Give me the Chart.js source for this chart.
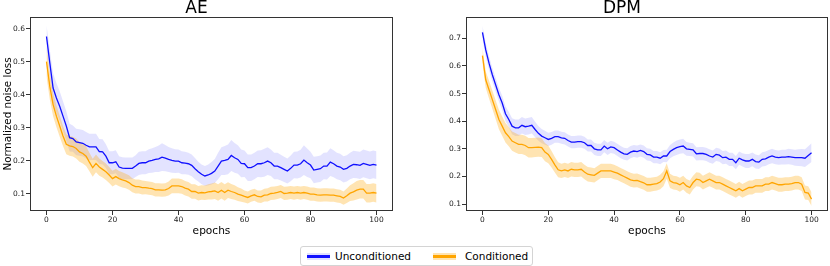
<!DOCTYPE html>
<html>
<head>
<meta charset="utf-8">
<script src="https://cdn.jsdelivr.net/npm/chart.js@4.4.1/dist/chart.umd.min.js"></script>
<style>
  body { margin: 0; background: #fff; width: 830px; height: 266px; position: relative; overflow: hidden; font-family: "DejaVu Sans", sans-serif; }
  canvas { position: absolute; top: 0; }
  #legend { position: absolute; left: 300px; top: 246px; width: 231px; height: 18px; border: 1px solid #d4d4d4; border-radius: 3px; background: #fff; }
  .item { position: absolute; top: 0; height: 18px; line-height: 18px; font-size: 10.5px; color: #000; white-space: nowrap; }
  .swatch { position: absolute; top: 6px; width: 23px; height: 7px; }
  .swatch span { position: absolute; left: 0; right: 0; top: 2px; height: 3px; }
</style>
</head>
<body>
<canvas id="ae_chart" width="410" height="240" style="left:0px"></canvas>
<canvas id="dpm_chart" width="414" height="240" style="left:416px"></canvas>
<div id="legend">
  <div class="swatch" style="left:6px;background:rgba(0,0,255,0.12)"><span style="background:#1010ff"></span></div>
  <div class="item" style="left:34px">Unconditioned</div>
  <div class="swatch" style="left:132px;background:rgba(255,165,0,0.3)"><span style="background:#ffa500"></span></div>
  <div class="item" style="left:164px">Conditioned</div>
</div>
<script>
// epochs on the x axis
var epochs = Array.from({ length: 101 }, function (_, i) { return i; });
var xTicks = [0, 20, 40, 60, 80, 100];
var aeTicks = [0.1, 0.2, 0.3, 0.4, 0.5, 0.6];
var dpmTicks = [0.1, 0.2, 0.3, 0.4, 0.5, 0.6, 0.7];

// AE - mean loss
var aeUncond = [0.576,0.496,0.42,0.39,0.365,0.335,0.305,0.27,0.267,0.257,
  0.255,0.253,0.247,0.242,0.242,0.242,0.228,0.227,0.214,0.194,
  0.194,0.197,0.181,0.178,0.177,0.177,0.177,0.184,0.192,0.194,
  0.194,0.199,0.201,0.204,0.206,0.211,0.208,0.204,0.201,0.199,
  0.199,0.194,0.193,0.191,0.186,0.176,0.167,0.159,0.154,0.157,
  0.162,0.169,0.184,0.199,0.201,0.204,0.216,0.209,0.204,0.192,
  0.191,0.179,0.179,0.184,0.191,0.191,0.194,0.199,0.194,0.184,
  0.184,0.179,0.174,0.169,0.177,0.187,0.187,0.191,0.202,0.194,
  0.187,0.172,0.174,0.176,0.184,0.184,0.196,0.191,0.184,0.181,
  0.174,0.177,0.184,0.189,0.188,0.186,0.192,0.189,0.186,0.189,0.187];
var aeCond = [0.5,0.425,0.37,0.335,0.305,0.275,0.25,0.245,0.243,0.237,
  0.227,0.222,0.214,0.196,0.179,0.192,0.181,0.174,0.167,0.157,
  0.146,0.152,0.146,0.142,0.139,0.134,0.126,0.122,0.122,0.119,
  0.119,0.117,0.116,0.112,0.112,0.111,0.112,0.116,0.124,0.124,
  0.124,0.122,0.117,0.114,0.107,0.107,0.102,0.104,0.103,0.106,
  0.107,0.109,0.104,0.111,0.104,0.111,0.107,0.104,0.099,0.096,
  0.092,0.089,0.094,0.097,0.092,0.091,0.096,0.097,0.101,0.102,
  0.104,0.107,0.101,0.102,0.104,0.102,0.104,0.102,0.104,0.102,
  0.099,0.099,0.097,0.096,0.097,0.097,0.096,0.096,0.094,0.092,
  0.087,0.094,0.102,0.106,0.111,0.114,0.114,0.102,0.102,0.104,0.102];
// AE - half width of the shaded band
var aeUncondSpread = [0.035,0.04,0.045,0.045,0.045,0.045,0.045,0.042,0.04,0.04,
  0.04,0.04,0.04,0.04,0.04,0.04,0.038,0.038,0.036,0.035,
  0.035,0.035,0.033,0.033,0.033,0.033,0.033,0.033,0.035,0.035,
  0.035,0.036,0.037,0.038,0.04,0.042,0.04,0.038,0.037,0.036,
  0.035,0.035,0.034,0.033,0.033,0.032,0.03,0.03,0.03,0.032,
  0.034,0.036,0.04,0.042,0.044,0.045,0.047,0.045,0.043,0.042,
  0.04,0.04,0.04,0.04,0.04,0.041,0.042,0.042,0.04,0.04,
  0.04,0.039,0.038,0.038,0.039,0.04,0.041,0.042,0.045,0.043,
  0.04,0.04,0.04,0.04,0.04,0.041,0.042,0.041,0.04,0.04,
  0.04,0.04,0.04,0.041,0.041,0.041,0.042,0.042,0.042,0.042,0.042];
var aeCondSpread = [0.045,0.04,0.035,0.033,0.032,0.03,0.03,0.03,0.03,0.03,
  0.03,0.03,0.03,0.028,0.027,0.027,0.026,0.025,0.025,0.024,
  0.024,0.024,0.023,0.023,0.022,0.022,0.021,0.021,0.021,0.021,
  0.02,0.02,0.02,0.02,0.02,0.02,0.02,0.021,0.022,0.022,
  0.022,0.022,0.022,0.022,0.022,0.022,0.022,0.022,0.022,0.023,
  0.024,0.025,0.025,0.025,0.025,0.024,0.023,0.022,0.021,0.02,
  0.018,0.018,0.018,0.018,0.018,0.019,0.019,0.02,0.02,0.02,
  0.02,0.02,0.02,0.02,0.02,0.02,0.02,0.02,0.02,0.02,
  0.02,0.02,0.02,0.02,0.02,0.02,0.02,0.02,0.02,0.02,
  0.02,0.022,0.024,0.026,0.028,0.028,0.028,0.028,0.028,0.028,0.028];

// DPM - mean loss
var dpmUncond = [0.721,0.658,0.61,0.568,0.532,0.496,0.466,0.427,0.406,0.382,
  0.376,0.376,0.385,0.38,0.382,0.385,0.37,0.356,0.346,0.34,
  0.334,0.338,0.344,0.344,0.34,0.338,0.33,0.324,0.324,0.326,
  0.326,0.322,0.312,0.312,0.3,0.296,0.296,0.31,0.3,0.307,
  0.304,0.296,0.288,0.282,0.28,0.288,0.292,0.29,0.294,0.29,
  0.28,0.278,0.27,0.27,0.266,0.274,0.274,0.29,0.298,0.304,
  0.308,0.31,0.3,0.298,0.296,0.282,0.283,0.283,0.28,0.274,
  0.27,0.28,0.277,0.268,0.27,0.262,0.262,0.25,0.266,0.26,
  0.256,0.256,0.262,0.254,0.252,0.262,0.264,0.27,0.274,0.27,
  0.268,0.27,0.27,0.272,0.27,0.268,0.268,0.268,0.266,0.276,0.286];
var dpmCond = [0.637,0.55,0.514,0.478,0.442,0.406,0.382,0.358,0.344,0.328,
  0.322,0.316,0.316,0.312,0.304,0.304,0.305,0.306,0.304,0.288,
  0.28,0.262,0.242,0.224,0.22,0.224,0.22,0.226,0.224,0.224,
  0.226,0.216,0.208,0.206,0.204,0.212,0.22,0.22,0.22,0.22,
  0.216,0.212,0.206,0.2,0.194,0.188,0.185,0.186,0.181,0.177,
  0.17,0.17,0.172,0.174,0.18,0.192,0.22,0.184,0.178,0.176,
  0.17,0.178,0.166,0.16,0.178,0.19,0.188,0.178,0.184,0.19,
  0.184,0.178,0.178,0.172,0.166,0.16,0.154,0.148,0.156,0.148,
  0.154,0.16,0.16,0.166,0.166,0.166,0.172,0.172,0.178,0.174,
  0.17,0.17,0.172,0.172,0.174,0.178,0.178,0.172,0.142,0.14,0.118];
// DPM - half width of the shaded band
var dpmUncondSpread = [0.025,0.025,0.025,0.025,0.025,0.025,0.026,0.027,0.028,0.029,
  0.03,0.03,0.03,0.03,0.03,0.03,0.028,0.027,0.026,0.025,
  0.024,0.023,0.022,0.022,0.022,0.022,0.022,0.022,0.022,0.022,
  0.022,0.022,0.022,0.022,0.022,0.022,0.022,0.022,0.022,0.022,
  0.022,0.022,0.022,0.022,0.022,0.022,0.022,0.022,0.022,0.022,
  0.022,0.022,0.022,0.022,0.022,0.022,0.023,0.024,0.025,0.026,
  0.026,0.026,0.025,0.024,0.024,0.024,0.024,0.024,0.024,0.024,
  0.024,0.024,0.024,0.024,0.024,0.024,0.024,0.024,0.024,0.024,
  0.025,0.025,0.025,0.025,0.025,0.026,0.026,0.026,0.026,0.026,
  0.026,0.027,0.027,0.028,0.028,0.029,0.03,0.031,0.032,0.033,0.034];
var dpmCondSpread = [0.028,0.03,0.032,0.033,0.034,0.035,0.035,0.035,0.035,0.035,
  0.035,0.035,0.035,0.035,0.035,0.035,0.035,0.035,0.034,0.033,
  0.032,0.03,0.028,0.027,0.026,0.026,0.026,0.026,0.026,0.026,
  0.026,0.026,0.026,0.026,0.026,0.026,0.026,0.026,0.026,0.026,
  0.026,0.025,0.025,0.025,0.025,0.025,0.025,0.025,0.025,0.025,
  0.025,0.025,0.025,0.025,0.026,0.027,0.028,0.026,0.025,0.025,
  0.025,0.025,0.025,0.025,0.025,0.025,0.025,0.025,0.025,0.025,
  0.025,0.025,0.025,0.025,0.025,0.025,0.025,0.025,0.025,0.025,
  0.025,0.025,0.025,0.025,0.025,0.025,0.025,0.025,0.025,0.025,
  0.025,0.025,0.025,0.025,0.025,0.025,0.025,0.025,0.025,0.025,0.025];

var FONT = '"DejaVu Sans", sans-serif';
var BLUE = '#1010ff', BLUE_BAND = 'rgba(0,0,255,0.11)';
var ORANGE = '#ffa500', ORANGE_BAND = 'rgba(255,165,0,0.3)';

// line + shaded band (upper fills down to lower)
function seriesDatasets(mean, spread, lineColor, bandColor, lineOrder, bandOrder) {
  return [
    { data: epochs.map(function (e, i) { return { x: e, y: mean[i] }; }),
      borderColor: lineColor, borderWidth: 1.3, pointRadius: 0, fill: false, tension: 0, order: lineOrder },
    { data: epochs.map(function (e, i) { return { x: e, y: mean[i] + spread[i] }; }),
      borderWidth: 0, pointRadius: 0, backgroundColor: bandColor, fill: '+1', tension: 0, order: bandOrder },
    { data: epochs.map(function (e, i) { return { x: e, y: mean[i] - spread[i] }; }),
      borderWidth: 0, pointRadius: 0, fill: false, tension: 0, order: bandOrder }
  ];
}

// draw the full axes box like matplotlib
var framePlugin = {
  id: 'frame',
  afterDraw: function (chart) {
    var a = chart.chartArea, c = chart.ctx;
    c.save();
    c.strokeStyle = '#333';
    c.lineWidth = 1;
    c.strokeRect(Math.round(a.left) + 0.5, Math.round(a.top) + 0.5, Math.round(a.right - a.left) - 1, Math.round(a.bottom - a.top) - 1);
    c.restore();
  }
};

function makeChart(canvasId, title, uncond, uncondSpread, cond, condSpread, yMin, yMax, yTicks, yWidth, padRight, yTitle) {
  var ctx = document.getElementById(canvasId).getContext('2d');
  var datasets = seriesDatasets(uncond, uncondSpread, BLUE, BLUE_BAND, 1, 3)
    .concat(seriesDatasets(cond, condSpread, ORANGE, ORANGE_BAND, 0, 2));
  return new Chart(ctx, {
    type: 'line',
    data: { datasets: datasets },
    options: {
      responsive: false,
      devicePixelRatio: 1,
      animation: false,
      events: [],
      layout: { padding: { left: 0, top: 0, right: padRight, bottom: 0 } },
      plugins: {
        legend: { display: false },
        tooltip: { enabled: false },
        title: { display: true, text: title, color: '#000', padding: 0,
          font: { family: FONT, size: 17, weight: 'normal', lineHeight: 1 } }
      },
      scales: {
        x: {
          type: 'linear', min: -5, max: 105,
          afterBuildTicks: function (s) { s.ticks = xTicks.map(function (v) { return { value: v }; }); },
          afterFit: function (s) { s.height = 29; },
          border: { display: false },
          grid: { drawOnChartArea: false, drawTicks: true, tickLength: 4, color: '#333' },
          ticks: { color: '#222', padding: 1, maxRotation: 0, autoSkip: false, font: { family: FONT, size: 7.5 } },
          title: { display: true, text: 'epochs', color: '#000', padding: { top: 0, bottom: 2 }, font: { family: FONT, size: 10.6 } }
        },
        y: {
          min: yMin, max: yMax,
          afterBuildTicks: function (s) { s.ticks = yTicks.map(function (v) { return { value: v }; }); },
          afterFit: function (s) { s.width = yWidth; },
          border: { display: false },
          grid: { drawOnChartArea: false, drawTicks: true, tickLength: 4, color: '#333' },
          ticks: { color: '#222', padding: 1, autoSkip: false, font: { family: FONT, size: 7.5 },
            callback: function (v) { return Number(v).toFixed(1); } },
          title: { display: !!yTitle, text: yTitle || '', color: '#000', padding: { top: 2, bottom: 0 }, font: { family: FONT, size: 10.4 } }
        }
      }
    },
    plugins: [framePlugin]
  });
}

makeChart('ae_chart', 'AE', aeUncond, aeUncondSpread, aeCond, aeCondSpread, 0.048, 0.635, aeTicks, 30, 17, 'Normalized noise loss');
makeChart('dpm_chart', 'DPM', dpmUncond, dpmUncondSpread, dpmCond, dpmCondSpread, 0.075, 0.777, dpmTicks, 50, 2, null);
</script>
</body>
</html>
